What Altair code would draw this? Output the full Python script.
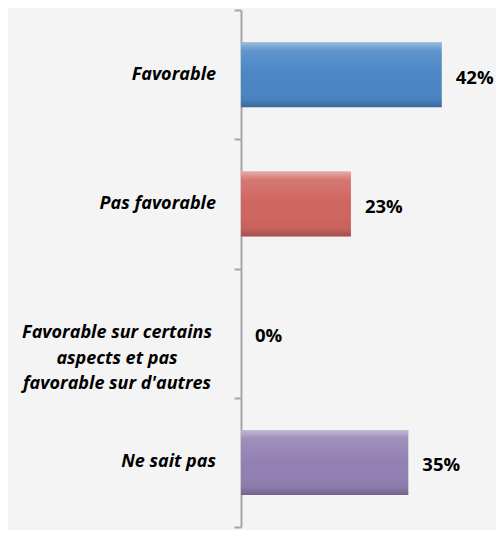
import altair as alt
import pandas as pd

categories = [
    "Favorable",
    "Pas favorable",
    "Favorable sur certains|aspects et pas|favorable sur d'autres",
    "Ne sait pas",
]
values = [0.42, 0.23, 0.0, 0.35]
colors = ["#4a86c5", "#d0655f", "#f4f4f4", "#9380b3"]

df = pd.DataFrame({"cat": categories, "val": values, "col": colors})

y = alt.Y(
    "cat:N",
    sort=categories,
    title=None,
    scale=alt.Scale(paddingInner=0, paddingOuter=0),
    axis=alt.Axis(
        tickBand="extent",
        domainColor="#a6a6a6",
        domainWidth=2,
        tickColor="#a6a6a6",
        tickWidth=2,
        tickSize=7,
        labels=False,
    ),
)

x = alt.X(
    "val:Q",
    title=None,
    scale=alt.Scale(domain=[0, 0.5], nice=False),
    axis=None,
)

base = alt.Chart(df)

bars = base.mark_bar(size=65).encode(
    x=x,
    y=y,
    color=alt.Color("col:N", scale=None, legend=None),
)

bevel = base.transform_filter("datum.val > 0").mark_bar(
    size=65,
    color=alt.Gradient(
        gradient="linear",
        x1=0, y1=0, x2=0, y2=1,
        stops=[
            alt.GradientStop(offset=0, color="rgba(255,255,255,0.45)"),
            alt.GradientStop(offset=0.13, color="rgba(255,255,255,0.12)"),
            alt.GradientStop(offset=0.5, color="rgba(255,255,255,0)"),
            alt.GradientStop(offset=0.88, color="rgba(0,0,0,0.04)"),
            alt.GradientStop(offset=1, color="rgba(0,0,0,0.22)"),
        ],
    ),
).encode(
    x=x,
    y=y,
)

values_text = base.mark_text(
    align="left",
    baseline="middle",
    dx=14,
    dy=3,
    font="Open Sans",
    fontSize=18.5,
    fontWeight="bold",
    color="#000000",
).encode(
    x=x,
    y=alt.Y("cat:N", sort=categories),
    text=alt.Text("val:Q", format=".0%"),
)

label_style = dict(
    baseline="middle",
    font="Open Sans",
    fontSize=18,
    fontWeight="bold",
    fontStyle="italic",
    color="#000000",
    lineBreak="|",
    lineHeight=25.5,
)

single_labels = base.transform_filter("indexof(datum.cat, '|') < 0").mark_text(
    align="right", **label_style
).encode(
    x=alt.value(-25),
    y=alt.Y("cat:N", sort=categories),
    text="cat:N",
)

multi_labels = base.transform_filter("indexof(datum.cat, '|') >= 0").mark_text(
    align="center", **label_style
).encode(
    x=alt.value(-124),
    y=alt.Y("cat:N", sort=categories),
    text="cat:N",
)

chart = (
    alt.layer(bars, bevel, values_text, single_labels, multi_labels)
    .properties(
        width=239,
        height=517,
        autosize=alt.AutoSizeParams(type="none"),
        padding={"left": 233, "top": 2, "right": 16, "bottom": 3},
        background="#f4f4f4",
    )
    .configure_view(stroke=None)
)

chart.save("out.html", embed_options={"renderer": "svg", "actions": False})
